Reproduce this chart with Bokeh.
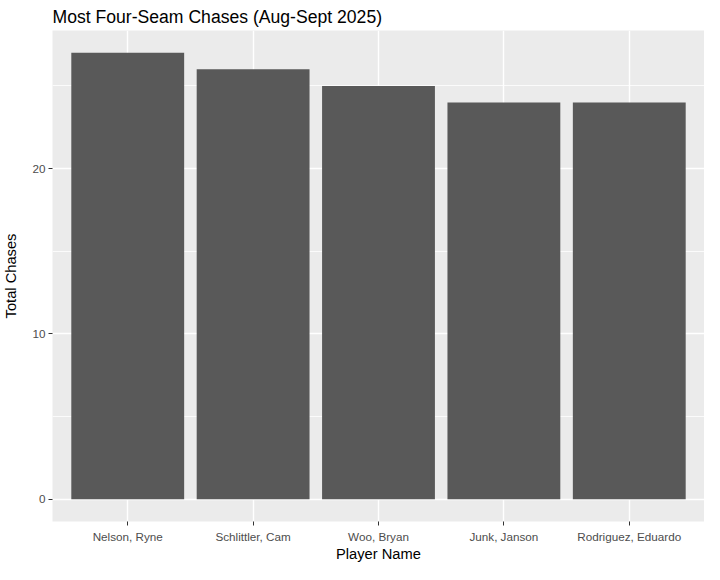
from bokeh.plotting import figure
from bokeh.models import FactorRange, Range1d, SingleIntervalTicker, Title
from bokeh.embed import file_html
from bokeh.resources import INLINE

players = ["Nelson, Ryne", "Schlittler, Cam", "Woo, Bryan", "Junk, Janson", "Rodriguez, Eduardo"]
chases = [27, 26, 25, 24, 24]
y_ticks_interval = 10

FONT = "Liberation Sans"

p = figure(
    width=704, height=564,
    x_range=FactorRange(factors=players, range_padding=0.1, range_padding_units="absolute"),
    y_range=Range1d(-1.35, 28.35),
    output_backend="svg", toolbar_location=None,
    min_border_left=46, min_border_right=0, min_border_top=0, min_border_bottom=0,
)
p.title = Title(text="Most Four-Seam Chases (Aug-Sept 2025)", text_font=FONT,
                text_font_size="17.6px", text_font_style="normal", text_color="black",
                offset=0, standoff=8)

p.vbar(x=players, top=chases, width=0.9, color="#595959", line_color=None)

p.background_fill_color = "#EBEBEB"
p.border_fill_color = "white"
p.outline_line_color = None

p.yaxis.ticker = SingleIntervalTicker(interval=y_ticks_interval, num_minor_ticks=2)
p.ygrid.grid_line_color = "white"
p.ygrid.grid_line_width = 1.4
p.ygrid.minor_grid_line_color = "white"
p.ygrid.minor_grid_line_width = 0.8
p.xgrid.grid_line_color = "white"
p.xgrid.grid_line_width = 1.4

for ax in (p.xaxis, p.yaxis):
    ax.axis_line_color = None
    ax.major_tick_line_color = "#333333"
    ax.major_tick_line_width = 1
    ax.major_tick_out = 4
    ax.major_tick_in = 0
    ax.minor_tick_line_color = None
    ax.major_label_text_font = FONT
    ax.major_label_text_font_size = "11.7px"
    ax.major_label_text_color = "#4D4D4D"
    ax.major_label_standoff = 3
    ax.axis_label_text_font = FONT
    ax.axis_label_text_font_size = "14.7px"
    ax.axis_label_text_font_style = "normal"
    ax.axis_label_text_color = "black"

p.xaxis.major_label_standoff = 4
p.xaxis.axis_label_standoff = 0
p.yaxis.axis_label_standoff = 10
p.xaxis.axis_label = "Player Name"
p.yaxis.axis_label = "Total Chases"

open("out.html", "w").write(file_html(p, INLINE))
